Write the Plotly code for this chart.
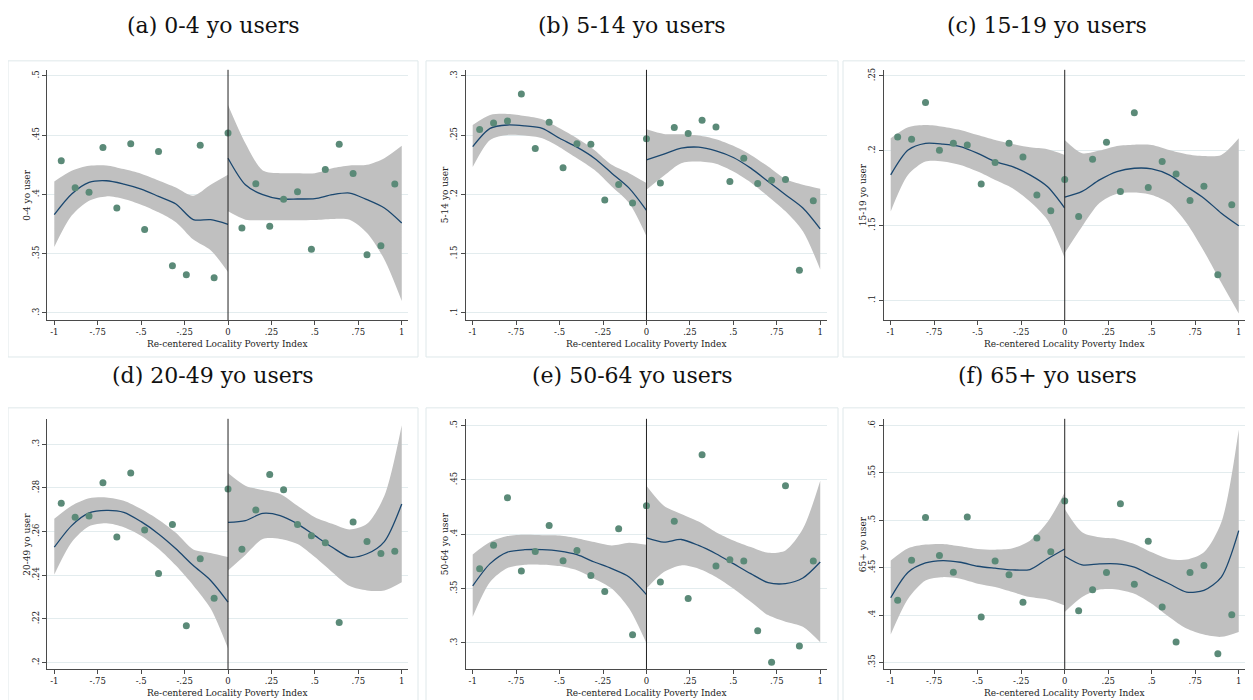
import plotly.graph_objects as go

# ---------------- data ----------------
x_bins = [-0.96, -0.88, -0.80, -0.72, -0.64, -0.56, -0.48, -0.40, -0.32, -0.24, -0.16, -0.08,
          0.00, 0.08, 0.16, 0.24, 0.32, 0.40, 0.48, 0.56, 0.64, 0.72, 0.80, 0.88, 0.96]
grid_left = [-1.0, -0.9, -0.8, -0.7, -0.6, -0.5, -0.4, -0.3, -0.2, -0.1, 0.0]
grid_right = [0.0, 0.1, 0.2, 0.3, 0.4, 0.5, 0.6, 0.7, 0.8, 0.9, 1.0]

x_tickvals = [-1, -0.75, -0.5, -0.25, 0, 0.25, 0.5, 0.75, 1]
x_ticktext = ["-1", "-.75", "-.5", "-.25", "0", ".25", ".5", ".75", "1"]
x_title = "Re-centered Locality Poverty Index"

# (a) 0-4
title_a = "(a) 0-4 yo users"
ytitle_a = "0-4 yo user"
pts_a = [0.4283, 0.4056, 0.4017, 0.4395, 0.3885, 0.4426, 0.3703, 0.4361, 0.3398, 0.3322, 0.4415, 0.3297,
         0.4518, 0.3717, 0.4090, 0.3731, 0.3958, 0.4022, 0.3538, 0.4210, 0.4423, 0.4176, 0.3490, 0.3566, 0.4087]
fitL_a = [0.3829, 0.4003, 0.4101, 0.4115, 0.4087, 0.4045, 0.3983, 0.3919, 0.3787, 0.3787, 0.3748]
upL_a = [0.4109, 0.4199, 0.4241, 0.4244, 0.4213, 0.4174, 0.4118, 0.4059, 0.3989, 0.4081, 0.4165]
loL_a = [0.3557, 0.3821, 0.3947, 0.3983, 0.3961, 0.3913, 0.3849, 0.3765, 0.3619, 0.3529, 0.3345]
fitR_a = [0.4305, 0.4081, 0.3997, 0.3961, 0.3961, 0.3964, 0.3997, 0.4011, 0.3955, 0.3885, 0.3759]
upR_a = [0.4754, 0.4431, 0.4202, 0.4179, 0.4179, 0.4179, 0.4221, 0.4244, 0.4249, 0.4305, 0.4409]
loR_a = [0.3857, 0.3787, 0.3782, 0.3782, 0.3782, 0.3784, 0.3793, 0.3787, 0.3675, 0.3451, 0.3101]
yticks_a = [0.3, 0.35, 0.4, 0.45, 0.5]
ylabels_a = [".3", ".35", ".4", ".45", ".5"]

# (b) 5-14
title_b = "(b) 5-14 yo users"
ytitle_b = "5-14 yo user"
pts_b = [0.2546, 0.2602, 0.2619, 0.2846, 0.2387, 0.2608, 0.2224, 0.2426, 0.2423, 0.1952, 0.2084, 0.1927,
         0.2468, 0.2095, 0.2563, 0.2513, 0.2625, 0.2569, 0.2109, 0.2305, 0.2092, 0.2120, 0.2126, 0.1361, 0.1947]
fitL_b = [0.2403, 0.2557, 0.2585, 0.2577, 0.2557, 0.2473, 0.2398, 0.2305, 0.2179, 0.2053, 0.1866]
upL_b = [0.2585, 0.2669, 0.2678, 0.2661, 0.2633, 0.2557, 0.2473, 0.2375, 0.2249, 0.2179, 0.2095]
loL_b = [0.2230, 0.2459, 0.2501, 0.2496, 0.2473, 0.2398, 0.2305, 0.2207, 0.2067, 0.1927, 0.1647]
fitR_b = [0.2291, 0.2339, 0.2389, 0.2398, 0.2367, 0.2311, 0.2221, 0.2109, 0.1997, 0.1885, 0.1709]
upR_b = [0.2549, 0.2510, 0.2507, 0.2496, 0.2465, 0.2409, 0.2333, 0.2235, 0.2129, 0.2081, 0.2048]
loR_b = [0.2039, 0.2157, 0.2263, 0.2277, 0.2258, 0.2193, 0.2101, 0.1983, 0.1857, 0.1689, 0.1367]
yticks_b = [0.1, 0.15, 0.2, 0.25, 0.3]
ylabels_b = [".1", ".15", ".2", ".25", ".3"]

# (c) 15-19
title_c = "(c) 15-19 yo users"
ytitle_c = "15-19 yo user"
pts_c = [0.2091, 0.2076, 0.2322, 0.2002, 0.2049, 0.2038, 0.1776, 0.1920, 0.2049, 0.1958, 0.1704, 0.1598,
         0.1807, 0.1560, 0.1942, 0.2056, 0.1727, 0.2253, 0.1753, 0.1927, 0.1844, 0.1667, 0.1762, 0.1171, 0.1638]
fitL_c = [0.1838, 0.2004, 0.2049, 0.2044, 0.2027, 0.1982, 0.1927, 0.1893, 0.1838, 0.1760, 0.1616]
upL_c = [0.2082, 0.2156, 0.2171, 0.2160, 0.2138, 0.2104, 0.2071, 0.2044, 0.2022, 0.2009, 0.1971]
loL_c = [0.1593, 0.1838, 0.1927, 0.1927, 0.1904, 0.1860, 0.1804, 0.1749, 0.1660, 0.1538, 0.1282]
fitR_c = [0.1689, 0.1727, 0.1804, 0.1860, 0.1882, 0.1878, 0.1838, 0.1760, 0.1682, 0.1582, 0.1498]
upR_c = [0.2071, 0.1982, 0.2000, 0.2031, 0.2040, 0.2038, 0.2004, 0.1976, 0.1964, 0.1971, 0.2082]
loR_c = [0.1316, 0.1493, 0.1649, 0.1711, 0.1720, 0.1704, 0.1649, 0.1516, 0.1327, 0.1116, 0.0911]
yticks_c = [0.1, 0.15, 0.2, 0.25]
ylabels_c = [".1", ".15", ".2", ".25"]

# (d) 20-49
title_d = "(d) 20-49 yo users"
ytitle_d = "20-49 yo user"
pts_d = [0.2729, 0.2665, 0.2671, 0.2823, 0.2575, 0.2868, 0.2607, 0.2408, 0.2632, 0.2169, 0.2475, 0.2294,
         0.2795, 0.2519, 0.2699, 0.2861, 0.2791, 0.2632, 0.2581, 0.2549, 0.2183, 0.2644, 0.2554, 0.2499, 0.2510]
fitL_d = [0.2528, 0.2627, 0.2685, 0.2697, 0.2688, 0.2645, 0.2589, 0.2521, 0.2444, 0.2376, 0.2277]
upL_d = [0.2658, 0.2718, 0.2752, 0.2756, 0.2741, 0.2703, 0.2654, 0.2594, 0.2518, 0.2502, 0.2483]
loL_d = [0.2403, 0.2551, 0.2624, 0.2638, 0.2620, 0.2581, 0.2521, 0.2444, 0.2353, 0.2247, 0.2064]
fitR_d = [0.2642, 0.2650, 0.2683, 0.2673, 0.2635, 0.2581, 0.2528, 0.2483, 0.2498, 0.2554, 0.2726]
upR_d = [0.2868, 0.2810, 0.2790, 0.2772, 0.2718, 0.2665, 0.2635, 0.2609, 0.2635, 0.2764, 0.3087]
loR_d = [0.2422, 0.2493, 0.2566, 0.2566, 0.2543, 0.2483, 0.2414, 0.2350, 0.2330, 0.2330, 0.2368]
yticks_d = [0.2, 0.22, 0.24, 0.26, 0.28, 0.3]
ylabels_d = [".2", ".22", ".24", ".26", ".28", ".3"]

# (e) 50-64
title_e = "(e) 50-64 yo users"
ytitle_e = "50-64 yo user"
pts_e = [0.3683, 0.3899, 0.4335, 0.3661, 0.3841, 0.4079, 0.3756, 0.3851, 0.3619, 0.3472, 0.4049, 0.3076,
         0.4262, 0.3561, 0.4119, 0.3408, 0.4729, 0.3707, 0.3765, 0.3753, 0.3113, 0.2823, 0.4445, 0.2972, 0.3753]
fitL_e = [0.3524, 0.3729, 0.3835, 0.3857, 0.3857, 0.3844, 0.3811, 0.3744, 0.3683, 0.3607, 0.3445]
upL_e = [0.3814, 0.3927, 0.3982, 0.3994, 0.3991, 0.3988, 0.3963, 0.3927, 0.3896, 0.3921, 0.3902]
loL_e = [0.3241, 0.3561, 0.3689, 0.3720, 0.3720, 0.3707, 0.3668, 0.3591, 0.3500, 0.3317, 0.2997]
fitR_e = [0.3966, 0.3927, 0.3951, 0.3896, 0.3820, 0.3729, 0.3637, 0.3555, 0.3546, 0.3597, 0.3744]
upR_e = [0.4445, 0.4262, 0.4186, 0.4116, 0.4018, 0.3942, 0.3881, 0.3829, 0.3851, 0.4049, 0.4491]
loR_e = [0.3500, 0.3652, 0.3713, 0.3683, 0.3607, 0.3500, 0.3378, 0.3256, 0.3195, 0.3149, 0.3006]
yticks_e = [0.3, 0.35, 0.4, 0.45, 0.5]
ylabels_e = [".3", ".35", ".4", ".45", ".5"]

# (f) 65+
title_f = "(f) 65+ yo users"
ytitle_f = "65+ yo user"
pts_f = [0.4155, 0.4578, 0.5030, 0.4627, 0.4452, 0.5034, 0.3980, 0.4571, 0.4424, 0.4134, 0.4813, 0.4669,
         0.5202, 0.4046, 0.4267, 0.4449, 0.5174, 0.4326, 0.4778, 0.4085, 0.3717, 0.4449, 0.4522, 0.3591, 0.4004]
fitL_f = [0.4183, 0.4452, 0.4550, 0.4575, 0.4557, 0.4515, 0.4494, 0.4477, 0.4480, 0.4592, 0.4697]
upL_f = [0.4575, 0.4704, 0.4743, 0.4750, 0.4725, 0.4697, 0.4690, 0.4704, 0.4785, 0.4978, 0.5293]
loL_f = [0.3794, 0.4172, 0.4365, 0.4400, 0.4382, 0.4330, 0.4295, 0.4242, 0.4190, 0.4165, 0.4102]
fitR_f = [0.4620, 0.4529, 0.4540, 0.4540, 0.4505, 0.4417, 0.4330, 0.4242, 0.4260, 0.4400, 0.4890]
upR_f = [0.5118, 0.4873, 0.4820, 0.4803, 0.4750, 0.4662, 0.4592, 0.4585, 0.4662, 0.4978, 0.5958]
loR_f = [0.4032, 0.4190, 0.4270, 0.4270, 0.4225, 0.4120, 0.3980, 0.3857, 0.3794, 0.3770, 0.3822]
yticks_f = [0.35, 0.4, 0.45, 0.5, 0.55, 0.6]
ylabels_f = [".35", ".4", ".45", ".5", ".55", ".6"]

# ---------------- layout geometry (page pixels) ----------------
OFF = 8                      # default body margin of the page
W, H = 1253 - OFF, 700 - OFF
col_plot = [(47.3, 408.0), (465.7, 826.5), (883.7, 1245.0)]
row_plot = [(68.0, 319.0), (418.0, 669.0)]
col_frame = [(8, 418), (426, 838), (843, 1251)]
row_frame = [(59, 356), (407, 712)]
title_y = [24, 375]
x_range = [-1.0403, 1.036]
y_ranges = [[0.294, 0.505], [0.094, 0.305], [0.0867, 0.254],
            [0.197, 0.3116], [0.276, 0.506], [0.343, 0.607]]

panels = [
    (title_a, ytitle_a, pts_a, fitL_a, upL_a, loL_a, fitR_a, upR_a, loR_a, yticks_a, ylabels_a),
    (title_b, ytitle_b, pts_b, fitL_b, upL_b, loL_b, fitR_b, upR_b, loR_b, yticks_b, ylabels_b),
    (title_c, ytitle_c, pts_c, fitL_c, upL_c, loL_c, fitR_c, upR_c, loR_c, yticks_c, ylabels_c),
    (title_d, ytitle_d, pts_d, fitL_d, upL_d, loL_d, fitR_d, upR_d, loR_d, yticks_d, ylabels_d),
    (title_e, ytitle_e, pts_e, fitL_e, upL_e, loL_e, fitR_e, upR_e, loR_e, yticks_e, ylabels_e),
    (title_f, ytitle_f, pts_f, fitL_f, upL_f, loL_f, fitR_f, upR_f, loR_f, yticks_f, ylabels_f),
]

SERIF = "DejaVu Serif"
BAND = "#c0c0c0"
FIT = "#1a476f"
DOT = "#5b8a78"
AXIS = "#4a4a4a"
GRID = "#e3ecee"
FRAME = "#dfe8ea"

fig = go.Figure()
layout = dict(
    width=W, height=H, margin=dict(l=0, r=0, t=0, b=0),
    paper_bgcolor="white", plot_bgcolor="white", showlegend=False,
    annotations=[], shapes=[],
)

def px_x(p):
    return (p - OFF) / W

def px_y(p):
    return 1 - (p - OFF) / H

for i, (ttl, ytl, pts, fL, uL, lL, fR, uR, lR, ytv, ytt) in enumerate(panels):
    r, c = divmod(i, 3)
    n = "" if i == 0 else str(i + 1)
    xa, ya = "x" + n, "y" + n
    x0, x1 = col_plot[c]
    y0, y1 = row_plot[r]

    for gx, up, lo, fit in ((grid_left, uL, lL, fL), (grid_right, uR, lR, fR)):
        fig.add_trace(go.Scatter(x=gx, y=lo, mode="lines", line=dict(width=0, color=BAND, shape="spline", smoothing=0.8),
                                 xaxis=xa, yaxis=ya, hoverinfo="skip"))
        fig.add_trace(go.Scatter(x=gx, y=up, mode="lines", fill="tonexty", fillcolor=BAND,
                                 line=dict(width=0, color=BAND, shape="spline", smoothing=0.8),
                                 xaxis=xa, yaxis=ya, hoverinfo="skip"))
        fig.add_trace(go.Scatter(x=gx, y=fit, mode="lines", line=dict(width=1.3, color=FIT, shape="spline", smoothing=0.8),
                                 xaxis=xa, yaxis=ya))
    fig.add_trace(go.Scatter(x=x_bins, y=pts, mode="markers", marker=dict(size=7, color=DOT),
                             xaxis=xa, yaxis=ya))

    layout["xaxis" + n] = dict(
        domain=[px_x(x0), px_x(x1)], anchor=ya, range=x_range,
        tickvals=x_tickvals, ticktext=x_ticktext, ticks="outside", ticklen=4, tickwidth=1,
        tickcolor=AXIS, showline=True, linecolor=AXIS, linewidth=1, showgrid=False, zeroline=False,
        tickfont=dict(family=SERIF, size=8.5, color="#222"),
    )
    layout["yaxis" + n] = dict(
        domain=[px_y(y1), px_y(y0)], anchor=xa, range=y_ranges[i],
        tickvals=ytv, ticktext=ytt, ticks="outside", ticklen=4, tickwidth=1, tickangle=-90,
        tickcolor=AXIS, showline=True, linecolor=AXIS, linewidth=1, showgrid=True, gridcolor=GRID,
        gridwidth=1, zeroline=False, tickfont=dict(family=SERIF, size=8.5, color="#222"),
    )
    # vertical cutoff line at 0
    layout["shapes"].append(dict(type="line", xref=xa, yref=ya + " domain", x0=0, x1=0, y0=0, y1=1,
                                 line=dict(color="#222", width=1)))
    # panel frame
    fx0, fx1 = col_frame[c]
    fy0, fy1 = row_frame[r]
    layout["shapes"].append(dict(type="rect", xref="paper", yref="paper", x0=px_x(fx0), x1=px_x(fx1),
                                 y0=px_y(fy1), y1=px_y(fy0), line=dict(color=FRAME, width=1), layer="below"))
    # titles
    layout["annotations"].append(dict(text=ttl, xref="paper", yref="paper", x=px_x((fx0 + fx1) / 2),
                                      y=px_y(title_y[r]), showarrow=False, xanchor="center", yanchor="middle",
                                      font=dict(family=SERIF, size=22, color="#111")))
    layout["annotations"].append(dict(text=x_title, xref="paper", yref="paper", x=px_x((x0 + x1) / 2),
                                      y=px_y(y1 + 23.5), showarrow=False, xanchor="center", yanchor="middle",
                                      font=dict(family=SERIF, size=9, color="#222")))
    layout["annotations"].append(dict(text=ytl, xref="paper", yref="paper", x=px_x(x0 - 20.5),
                                      y=px_y((y0 + y1) / 2), showarrow=False, xanchor="center", yanchor="middle",
                                      textangle=-90, font=dict(family=SERIF, size=9, color="#222")))

fig.update_layout(**layout)
fig.write_html("out.html")
